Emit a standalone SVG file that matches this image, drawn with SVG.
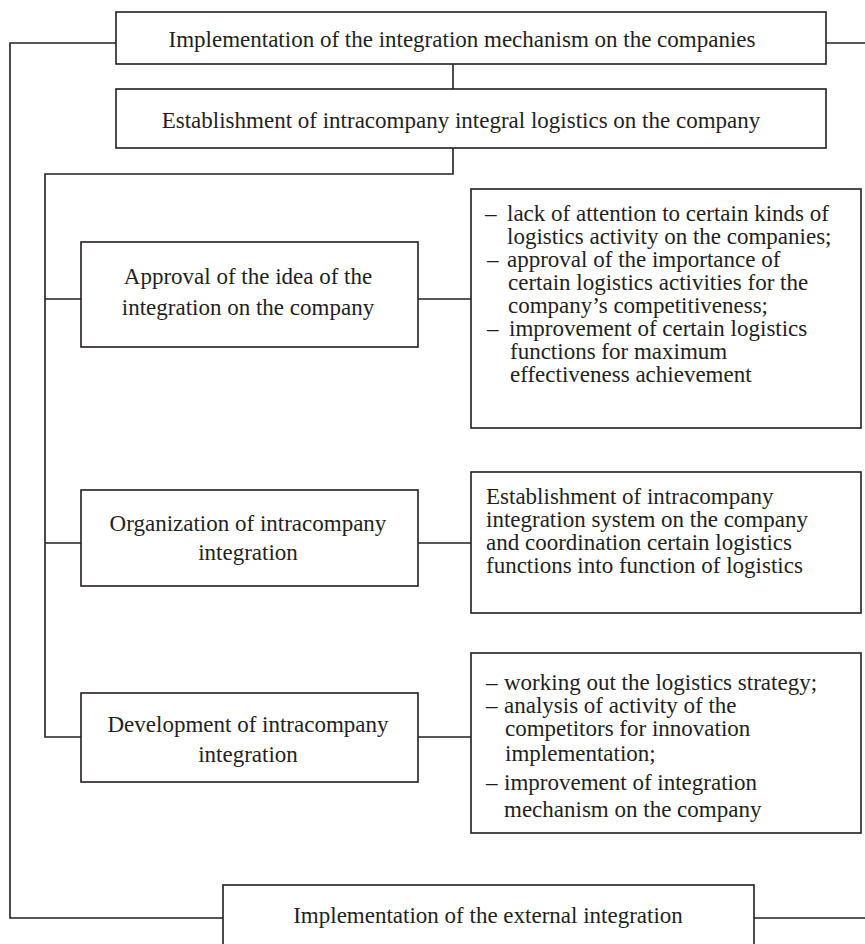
<svg xmlns="http://www.w3.org/2000/svg" width="865" height="944" viewBox="0 0 865 944">
<style>
.box{fill:#fff;stroke:#231f20;stroke-width:1.6}
.ln{fill:none;stroke:#231f20;stroke-width:1.6}
text{font-family:"Liberation Serif","Times New Roman",serif;font-size:23px;fill:#231f20}
.c{text-anchor:middle}
</style>
<rect width="865" height="944" fill="#fff"/>
<g id="connectors">
<polyline class="ln" points="116,43 10,43 10,918 223,918"/>
<line class="ln" x1="826" y1="43" x2="865" y2="43"/>
<line class="ln" x1="754" y1="918" x2="865" y2="918"/>
<line class="ln" x1="453" y1="64" x2="453" y2="89"/>
<polyline class="ln" points="453,148 453,174 45,174 45,737 81,737"/>
<line class="ln" x1="45" y1="299" x2="81" y2="299"/>
<line class="ln" x1="45" y1="543" x2="81" y2="543"/>
<line class="ln" x1="418" y1="299" x2="471" y2="299"/>
<line class="ln" x1="418" y1="543" x2="471" y2="543"/>
<line class="ln" x1="418" y1="737" x2="471" y2="737"/>
</g>
<g id="n-top">
<rect class="box" x="116" y="12" width="710" height="52"/>
<text class="c" x="462" y="47">Implementation of the integration mechanism on the companies</text>
</g>
<g id="n-establish">
<rect class="box" x="116" y="89" width="710" height="59"/>
<text class="c" x="461" y="128">Establishment of intracompany integral logistics on the company</text>
</g>
<g id="n-approval">
<rect class="box" x="81" y="242" width="337" height="105"/>
<text class="c" x="248" y="284">Approval of the idea of the</text>
<text class="c" x="248" y="315">integration on the company</text>
</g>
<g id="n-approval-notes">
<rect class="box" x="471" y="189" width="390" height="239"/>
<text><tspan x="485" y="221">–</tspan><tspan x="507" y="221">lack of attention to certain kinds of</tspan></text>
<text x="507" y="244">logistics activity on the companies;</text>
<text><tspan x="487" y="267">–</tspan><tspan x="507" y="267">approval of the importance of</tspan></text>
<text x="508" y="290">certain logistics activities for the</text>
<text x="508" y="313">company’s competitiveness;</text>
<text><tspan x="487" y="336">–</tspan><tspan x="509" y="336">improvement of certain logistics</tspan></text>
<text x="510" y="359">functions for maximum</text>
<text x="510" y="382">effectiveness achievement</text>
</g>
<g id="n-organization">
<rect class="box" x="81" y="490" width="337" height="96"/>
<text class="c" x="248" y="531">Organization of intracompany</text>
<text class="c" x="248" y="560">integration</text>
</g>
<g id="n-organization-notes">
<rect class="box" x="471" y="472" width="390" height="141"/>
<text x="486" y="504">Establishment of intracompany</text>
<text x="486" y="527">integration system on the company</text>
<text x="486" y="550">and coordination certain logistics</text>
<text x="486" y="573">functions into function of logistics</text>
</g>
<g id="n-development">
<rect class="box" x="81" y="693" width="337" height="89"/>
<text class="c" x="248" y="732">Development of intracompany</text>
<text class="c" x="248" y="762">integration</text>
</g>
<g id="n-development-notes">
<rect class="box" x="471" y="653" width="390" height="180"/>
<text><tspan x="486" y="690">–</tspan><tspan x="504" y="690">working out the logistics strategy;</tspan></text>
<text><tspan x="486" y="713">–</tspan><tspan x="504" y="713">analysis of activity of the</tspan></text>
<text x="505" y="736">competitors for innovation</text>
<text x="505" y="761">implementation;</text>
<text><tspan x="486" y="790">–</tspan><tspan x="504" y="790">improvement of integration</tspan></text>
<text x="504" y="817">mechanism on the company</text>
</g>
<g id="n-external">
<rect class="box" x="223" y="885" width="531" height="70"/>
<text class="c" x="488" y="923">Implementation of the external integration</text>
</g>
</svg>
